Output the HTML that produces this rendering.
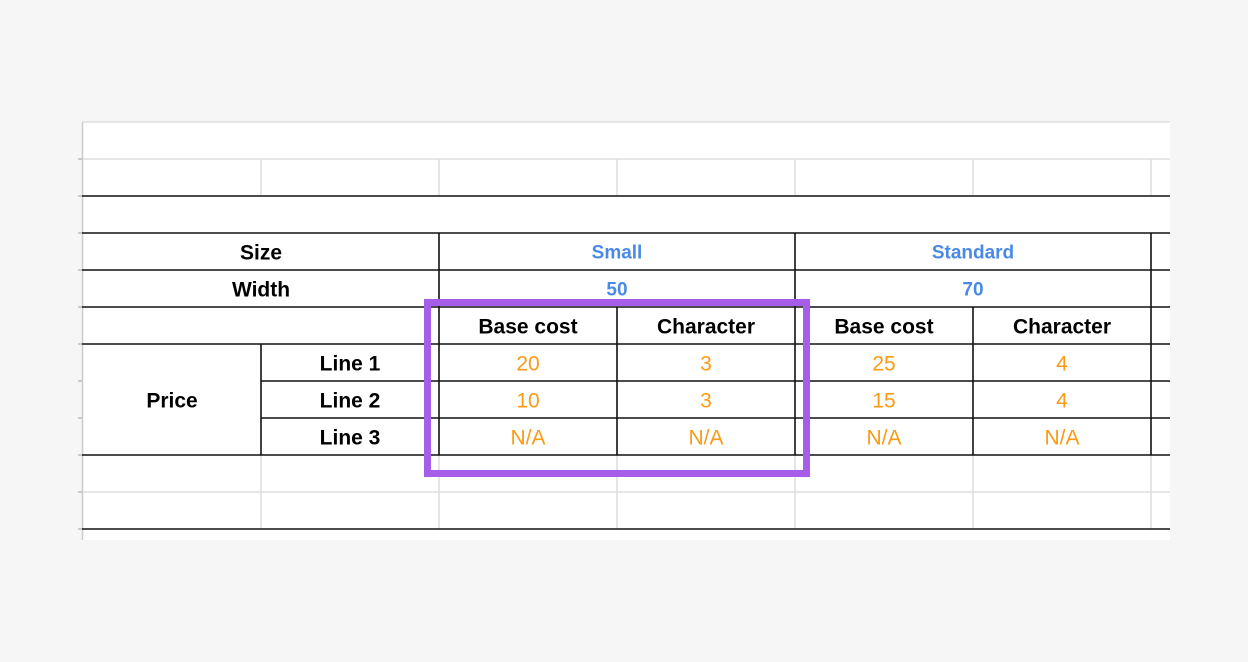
<!DOCTYPE html>
<html><head><style>
body{margin:0;background:#f6f6f6;}
svg{display:block}
text{font-family:"Liberation Sans",Arial,sans-serif;font-size:21px;text-anchor:middle;dominant-baseline:central}
.b{font-weight:bold;fill:#000}
.bl{font-weight:bold;fill:#4a8ae6;font-size:19px}
.o{fill:#fb9a14}
</style></head><body>
<svg width="1248" height="662" xmlns="http://www.w3.org/2000/svg">
<rect x="82" y="122" width="1088" height="418" fill="#fff"/>
<g stroke="#ddd" stroke-width="1.5">
<line x1="82" y1="122" x2="1170" y2="122"/>
<line x1="82" y1="159" x2="1170" y2="159"/>
<line x1="82" y1="492" x2="1170" y2="492"/>
<line x1="82.5" y1="122" x2="82.5" y2="540" stroke="#ccc"/>
<g>
<line x1="261" y1="159" x2="261" y2="196"/><line x1="439" y1="159" x2="439" y2="196"/><line x1="617" y1="159" x2="617" y2="196"/><line x1="795" y1="159" x2="795" y2="196"/><line x1="973" y1="159" x2="973" y2="196"/><line x1="1151" y1="159" x2="1151" y2="196"/>
<line x1="261" y1="455" x2="261" y2="529"/><line x1="439" y1="455" x2="439" y2="529"/><line x1="617" y1="455" x2="617" y2="529"/><line x1="795" y1="455" x2="795" y2="529"/><line x1="973" y1="455" x2="973" y2="529"/><line x1="1151" y1="455" x2="1151" y2="529"/>
</g>
<g stroke="#bbb"><line x1="78" y1="159" x2="82" y2="159"/><line x1="78" y1="196" x2="82" y2="196"/><line x1="78" y1="233" x2="82" y2="233"/><line x1="78" y1="270" x2="82" y2="270"/><line x1="78" y1="307" x2="82" y2="307"/><line x1="78" y1="344" x2="82" y2="344"/><line x1="78" y1="381" x2="82" y2="381"/><line x1="78" y1="418" x2="82" y2="418"/><line x1="78" y1="455" x2="82" y2="455"/><line x1="78" y1="492" x2="82" y2="492"/><line x1="78" y1="529" x2="82" y2="529"/></g>
</g>
<g stroke="#111" stroke-width="1.6">
<line x1="82" y1="196" x2="1170" y2="196"/>
<line x1="82" y1="233" x2="1170" y2="233"/>
<line x1="82" y1="270" x2="1170" y2="270"/>
<line x1="82" y1="307" x2="1170" y2="307"/>
<line x1="82" y1="344" x2="1170" y2="344"/>
<line x1="261" y1="381" x2="1170" y2="381"/>
<line x1="261" y1="418" x2="1170" y2="418"/>
<line x1="82" y1="455" x2="1170" y2="455"/>
<line x1="82" y1="529" x2="1170" y2="529"/>
<line x1="439" y1="233" x2="439" y2="455"/>
<line x1="795" y1="233" x2="795" y2="455"/>
<line x1="1151" y1="233" x2="1151" y2="455"/>
<line x1="617" y1="307" x2="617" y2="455"/>
<line x1="973" y1="307" x2="973" y2="455"/>
<line x1="261" y1="344" x2="261" y2="455"/>
</g>
<text class="b" x="261" y="253">Size</text>
<text class="b" x="261" y="290">Width</text>
<text class="bl" x="617" y="253">Small</text>
<text class="bl" x="973" y="253">Standard</text>
<text class="bl" x="617" y="290">50</text>
<text class="bl" x="973" y="290">70</text>
<text class="b" x="528" y="327">Base cost</text>
<text class="b" x="706" y="327">Character</text>
<text class="b" x="884" y="327">Base cost</text>
<text class="b" x="1062" y="327">Character</text>
<text class="b" x="172" y="401">Price</text>
<text class="b" x="350" y="364">Line 1</text>
<text class="b" x="350" y="401">Line 2</text>
<text class="b" x="350" y="438">Line 3</text>
<text class="o" x="528" y="364">20</text><text class="o" x="706" y="364">3</text><text class="o" x="884" y="364">25</text><text class="o" x="1062" y="364">4</text>
<text class="o" x="528" y="401">10</text><text class="o" x="706" y="401">3</text><text class="o" x="884" y="401">15</text><text class="o" x="1062" y="401">4</text>
<text class="o" x="528" y="438">N/A</text><text class="o" x="706" y="438">N/A</text><text class="o" x="884" y="438">N/A</text><text class="o" x="1062" y="438">N/A</text>
<rect x="427.5" y="302.5" width="379" height="171" fill="none" stroke="#a65eea" stroke-width="7"/>
</svg>
</body></html>
